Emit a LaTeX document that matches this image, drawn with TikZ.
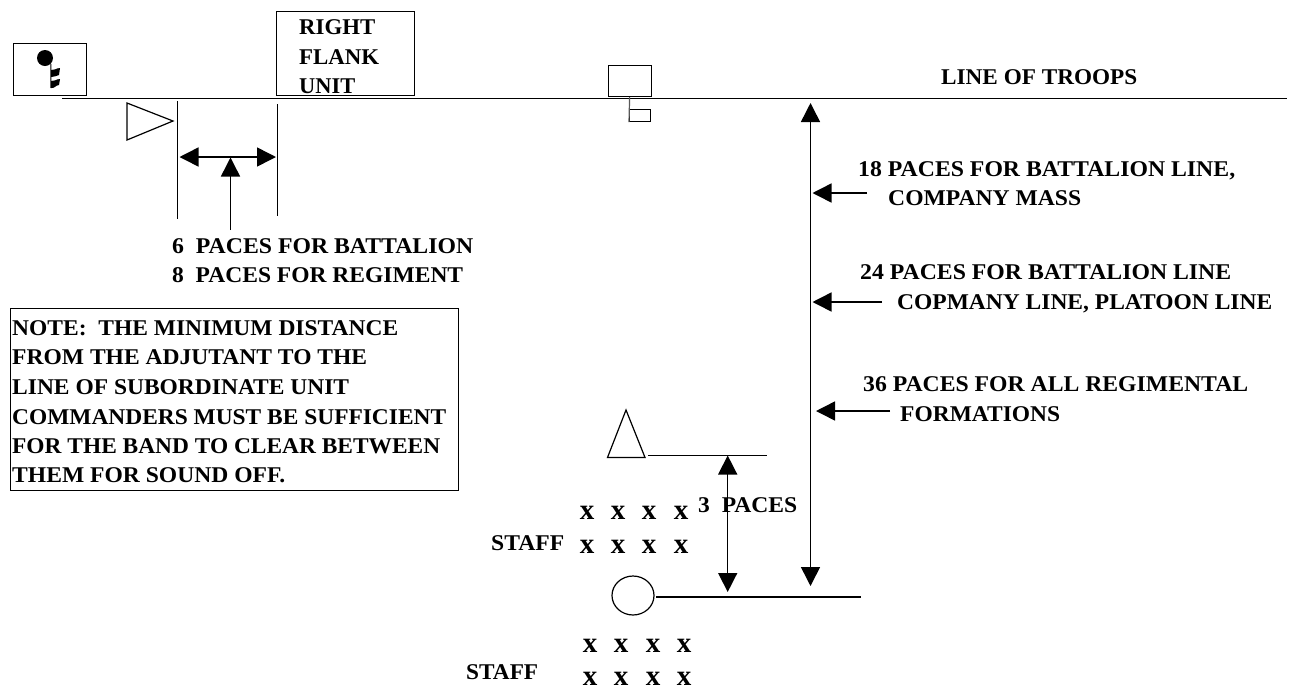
\documentclass[tikz,border=0pt]{standalone}
\usepackage{graphicx}
\usepackage{fontspec}
\setmainfont{Liberation Serif}
\usetikzlibrary{arrows.meta,shapes.geometric}
\newcommand{\fitw}[2]{\resizebox{#1pt}{\height}{#2}}
\tikzset{
  lbl/.style={anchor=base west,inner sep=0pt,font=\fontsize{22.5}{26}\selectfont\bfseries},
  xm/.style={anchor=base,inner sep=0pt,font=\fontsize{29}{30}\selectfont\bfseries},
  ln/.style={line width=1.2pt,black},
  box/.style={draw=black,line width=1.2pt,inner sep=0pt,anchor=north west},
  arr/.style={line width=1.5pt,-{Triangle[length=19pt,width=19pt]}},
  darr/.style={line width=1.5pt,{Triangle[length=19pt,width=19pt]}-{Triangle[length=19pt,width=19pt]}},
}
\begin{document}
\begin{tikzpicture}[x=1pt,y=-1pt]
\useasboundingbox (0,0) rectangle (1290,689);
% main line
\coordinate (mainL) at (62,98.5); \coordinate (mainR) at (1287,98.5);
\draw[ln] (mainL) -- (mainR);
% flag box
\node[box,minimum width=73pt,minimum height=52pt] (flagbox) at (13,43) {};
\node[circle,fill=black,inner sep=0pt,minimum size=16pt] (flagball) at (45,58) {};
\coordinate (polebot) at (51,88);
\draw[line width=1pt] (flagball.south east) -- (polebot);
\fill[black] (51,70) .. controls (54,71) and (56,68) .. (60,68) -- (59,75) .. controls (56,75) and (54,78) .. (51,77) -- cycle;
\fill[black] (51,81) .. controls (54,82) and (56,79) .. (60,79) -- (59,85) .. controls (56,85) and (54,89) .. (51,88) -- cycle;
% right flank
\node[box,minimum width=138pt,minimum height=84pt] (rfbox) at (276,11) {};
\node[lbl] (t1) at (299,34) {\fitw{76}{RIGHT}};
\node[lbl] (t2) at (299,64) {\fitw{80}{FLANK}};
\node[lbl] (t3) at (299,93) {\fitw{56}{UNIT}};
% triangle right
\draw[ln] (127,103) -- (173,121) -- (127,140) -- cycle;
% verticals
\coordinate (v1a) at (177.5,101); \coordinate (v1b) at (177.5,219);
\coordinate (v2a) at (277.5,104); \coordinate (v2b) at (277.5,216);
\draw[ln] (v1a) -- (v1b);
\draw[ln] (v2a) -- (v2b);
\coordinate (wL) at (179.5,157); \coordinate (wR) at (276,157);
\draw[darr] (wL) -- (wR);
\coordinate (upA) at (230.5,230); \coordinate (upB) at (230.5,157.5);
\draw[arr] (upA) -- (upB);
\node[lbl] (p6) at (172,253) {\fitw{301}{6\ \ PACES FOR BATTALION}};
\node[lbl] (p8) at (172,282) {\fitw{291}{8\ \ PACES FOR REGIMENT}};
% note
\node[box,minimum width=448pt,minimum height=182pt] (notebox) at (10,308) {};
\node[lbl] (n1) at (12,335) {\fitw{386}{NOTE:\ \ THE MINIMUM DISTANCE}};
\node[lbl] (n2) at (12,364) {\fitw{355}{FROM THE ADJUTANT TO THE}};
\node[lbl] (n3) at (12,394) {\fitw{337}{LINE OF SUBORDINATE UNIT}};
\node[lbl] (n4) at (12,424) {\fitw{434}{COMMANDERS MUST BE SUFFICIENT}};
\node[lbl] (n5) at (12,453) {\fitw{428}{FOR THE BAND TO CLEAR BETWEEN}};
\node[lbl] (n6) at (12,482) {\fitw{273}{THEM FOR SOUND OFF.}};
% center flag
\node[box,minimum width=43pt,minimum height=31pt] (cbox) at (608,65) {};
\node[box,minimum width=21pt,minimum height=12pt] (sbox) at (629,109) {};
\draw[ln,gray!70!black] (cbox.south) ++(-0.5,0) -- (sbox.south west);
% right labels
\node[lbl] (ttl) at (941,84) {\fitw{196}{LINE OF TROOPS}};
\node[lbl] (a1) at (858,176) {\fitw{377}{18 PACES FOR BATTALION LINE,}};
\node[lbl] (a2) at (888,205) {\fitw{193}{COMPANY MASS}};
\node[lbl] (b1) at (860,279) {\fitw{371}{24 PACES FOR BATTALION LINE}};
\node[lbl] (b2) at (897,309) {\fitw{375}{COPMANY LINE, PLATOON LINE}};
\node[lbl] (c1) at (863,391) {\fitw{385}{36 PACES FOR ALL REGIMENTAL}};
\node[lbl] (c2) at (900,421) {\fitw{160}{FORMATIONS}};
% long arrow
\coordinate (laT) at (810.5,103); \coordinate (laB) at (810.5,586);
\draw[darr] (laT) -- (laB);
\coordinate (aS) at (867,193); \coordinate (aE) at (812.5,193);
\coordinate (bS) at (882,302); \coordinate (bE) at (812.5,302);
\coordinate (cS) at (890,411); \coordinate (cE) at (816,411);
\draw[arr] (aS) -- (aE);
\draw[arr] (bS) -- (bE);
\draw[arr] (cS) -- (cE);
% triangle up
\draw[ln] (607.5,457.5) -- (626,410) -- (645,457.5) -- cycle;
\coordinate (l1a) at (648,455.5); \coordinate (l1b) at (767,455.5);
\draw[ln] (l1a) -- (l1b);
\coordinate (s3a) at (727.7,455.5); \coordinate (s3b) at (727.7,592);
\draw[darr] (s3a) -- (s3b);
\node[lbl] (p3) at (698,512) {\fitw{99}{3\ \ PACES}};
% circle
\node[draw=black,line width=1.2pt,ellipse,inner sep=0pt,minimum width=42pt,minimum height=39pt] (circ) at (633,595.5) {};
\coordinate (l2a) at (656,597); \coordinate (l2b) at (861,597);
\draw[ln] (l2a) -- (l2b);
% staff
\node[lbl] (s1) at (491,550) {\fitw{73}{STAFF}};
\node[lbl] (s2) at (466,679) {\fitw{72}{STAFF}};
\foreach \nm/\xx in {a/587,b/618,c/649,d/681}{
  \node[xm] (r1\nm) at (\xx,519) {x};
  \node[xm] (r2\nm) at (\xx,553) {x};
}
\foreach \nm/\xx in {a/590,b/621,c/653,d/684}{
  \node[xm] (r3\nm) at (\xx,652) {x};
  \node[xm] (r4\nm) at (\xx,685.5) {x};
}
\end{tikzpicture}
\end{document}
